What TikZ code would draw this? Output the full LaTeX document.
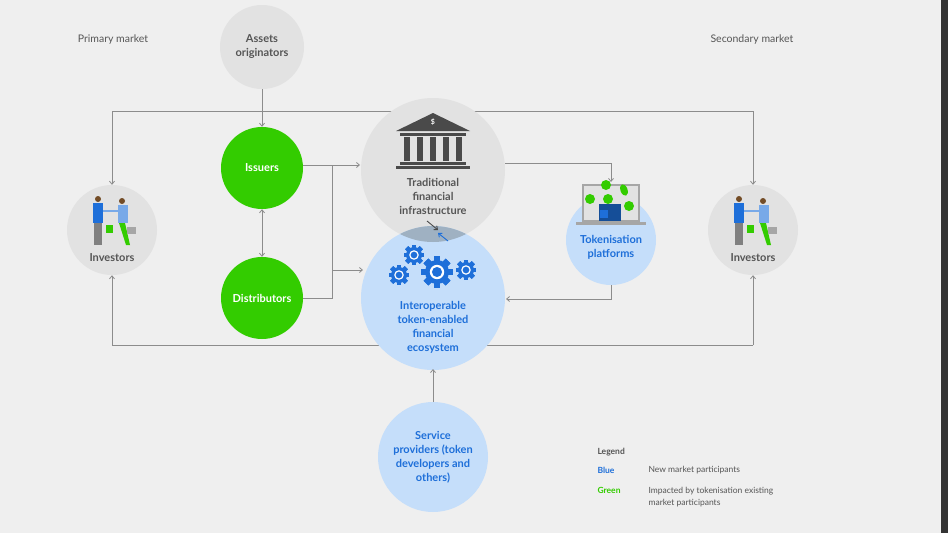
\documentclass[tikz,border=0pt]{standalone}
\usepackage{fontspec}
\setmainfont{Lato}
\usetikzlibrary{arrows.meta,calc}
\begin{document}
\definecolor{bg}{HTML}{EFEFEF}
\definecolor{gc}{HTML}{E2E2E2}
\definecolor{grn}{HTML}{33CC00}
\definecolor{lb}{HTML}{C5DEFA}
\definecolor{bt}{HTML}{1E6FD9}
\definecolor{ln}{HTML}{8C8C8C}
\definecolor{tx}{HTML}{555555}
\definecolor{dk}{HTML}{4A4A4A}
\definecolor{ov}{HTML}{9FB1C2}
\begin{tikzpicture}[x=1pt,y=-1pt,
  bf/.style={font=\bfseries\fontsize{11}{14}\selectfont},
  circ/.style={circle,inner sep=0pt,align=center,bf},
  gcirc/.style={circ,fill=gc,text=tx},
  green/.style={circ,fill=grn,text=white},
  blue/.style={circ,fill=lb,text=bt},
  conn/.style={draw=ln,line width=0.8pt},
  arr/.style={conn,-{Straight Barb[length=3pt,width=5pt]}}]
\fill[bg] (0,0) rectangle (948,533);
\fill[black!80] (941,0) rectangle (948,533);
\useasboundingbox (0,0) rectangle (948,533);

\coordinate (tl) at (112,111); \coordinate (tr) at (753,111);
\coordinate (bl) at (112,345); \coordinate (br) at (753,345);
\draw[conn] (tl) -- (tr);
\draw[conn] (bl) -- (br);

\node[gcirc,minimum size=84pt] (ao) at (262,47) {Assets\\originators};
\node[green,minimum size=82pt] (is) at (262,168) {Issuers};
\node[green,minimum size=82pt] (di) at (262,298) {Distributors};
\node[gcirc,minimum size=90pt] (il) at (112,230) {};
\node[gcirc,minimum size=90pt] (ir) at (753,230) {};
\node[blue,minimum size=90pt] (tp) at (611,240) {};
\node[blue,minimum size=110pt] (sp) at (433,457) {Service\\providers (token\\developers and\\others)};
\node[gcirc,minimum size=144pt] (tf) at (433,170) {};
\node[blue,minimum size=144pt] (ie) at (433,298) {};
\begin{scope}
\clip (433,170) circle (72pt);
\fill[ov] (433,298) circle (72pt);
\end{scope}

\node[bf,text=tx,align=center] at (433,196) {Traditional\\financial\\infrastructure};
\node[bf,text=bt,align=center] at (433,327) {Interoperable\\token-enabled\\financial\\ecosystem};
\node[bf,text=bt,align=center] at (611,247) {Tokenisation\\platforms};
\node[bf,text=tx] at (112,258) {Investors};
\node[bf,text=tx] at (753,258) {Investors};

\node[font=\fontsize{10.5}{12}\selectfont,text=tx] at (113,40) {Primary market};
\node[font=\fontsize{10.5}{12}\selectfont,text=tx] at (752,40) {Secondary market};

\draw[arr] (ao) -- (is);
\draw[arr,{Straight Barb[length=3pt,width=5pt]}-{Straight Barb[length=3pt,width=5pt]}] (is) -- (di);
\draw[arr] (is.east |- 0,165) -- (360,165);
\draw[conn] (332,165) -- (332,298) -- (di.east);
\draw[arr] (332,270) -- (363,270);
\draw[arr] (tl) -- (il);
\draw[arr] (tr) -- (ir);
\draw[arr] (bl) -- (il);
\draw[arr] (br) -- (ir);
\draw[arr] (505,163) -- (611,163) -- (611,182);
\draw[arr] (tp.south) -- (611,299) -- (506,299);
\draw[arr] (sp) -- (433,369);
\draw[-{Straight Barb[length=3pt,width=5pt]},dk,line width=0.9pt] (427,221) -- (438,230);
\draw[-{Straight Barb[length=3pt,width=5pt]},bt,line width=0.9pt] (448,241) -- (438,233);

% bank icon
\fill[dk] (433,113) -- (470,131) -- (396,131) -- cycle;
\node[text=white,font=\bfseries\fontsize{7}{7}\selectfont] at (433,122) {\$};
\fill[dk] (400,133) rectangle (466,136);
\foreach \x in {404,417,430,443,456} \fill[dk] (\x,137) rectangle (\x+6,161);
\fill[dk] (400,162) rectangle (466,165);
\fill[dk] (396,166) rectangle (470,169);

% gears
\def\gear#1#2#3{%
 \fill[bt] (#1,#2) circle (#3);
 \foreach \a in {0,45,...,315}{\fill[bt,rotate around={\a:(#1,#2)}] ($(#1,#2)+(-0.28*#3,-1.3*#3)$) rectangle ($(#1,#2)+(0.28*#3,1.3*#3)$);}
 \fill[white] (#1,#2) circle (0.6*#3);
 \fill[bt] (#1,#2) circle (0.42*#3);}
\gear{437}{272}{12}
\gear{399}{275}{8}
\gear{414}{255}{8}
\gear{466}{270}{8}

% laptop
\fill[gray!70] (582,184) rectangle (640,222);
\fill[gc] (584,186) rectangle (638,220);
\fill[gray!70] (576,222) rectangle (646,225);
\fill[bt!70!black] (599,204) rectangle (621,221);
\fill[bt] (600,210) rectangle (608,218);
\foreach \p in {(606,185),(608,199),(629,206),(590,199)} \fill[grn] \p circle (5);
\fill[grn,rotate around={20:(624,190)}] (624,190) ellipse (3.5 and 6);

% people
\def\people#1#2{%
 \begin{scope}[shift={(#1,#2)}]
 \fill[brown!60!black] (-14,-32) circle (3);
 \fill[bt] (-19,-28) rectangle (-9,-8);
 \fill[gray] (-18,-8) rectangle (-10,14);
 \fill[brown!60!black] (10,-30) circle (3);
 \fill[bt!60] (6,-26) rectangle (16,-8);
 \fill[grn] (7,-8) -- (13,-8) -- (18,14) -- (14,14) -- cycle;
 \fill[grn] (-6,-6) rectangle (1,2);
 \fill[gray!70] (15,-4) rectangle (24,3);
 \draw[bt!60,line width=1.5pt] (-9,-20) -- (6,-20);
 \end{scope}}
\people{112}{231}
\people{753}{231}

% legend
\node[font=\bfseries\fontsize{8.5}{10}\selectfont,text=tx,anchor=west] at (594,452) {Legend};
\node[font=\bfseries\fontsize{8.5}{10}\selectfont,text=bt,anchor=west] at (594,470) {Blue};
\node[font=\bfseries\fontsize{8.5}{10}\selectfont,text=grn,anchor=west] at (594,490) {Green};
\node[font=\fontsize{8.5}{10}\selectfont,text=tx,anchor=west] at (645,470) {New market participants};
\node[font=\fontsize{8.5}{12}\selectfont,text=tx,anchor=north west,align=left] at (645,484) {Impacted by tokenisation existing\\market participants};
\end{tikzpicture}
\end{document}
